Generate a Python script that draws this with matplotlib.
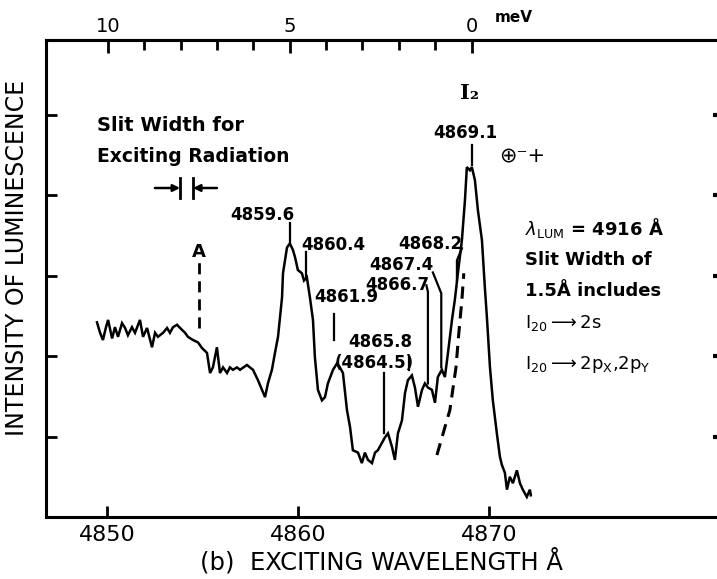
import numpy as np
import matplotlib
matplotlib.use("Agg")
import matplotlib.pyplot as plt
import matplotlib.transforms as mtransforms
from matplotlib.ticker import FixedLocator, NullFormatter

plt.rcParams['font.family'] = ['DejaVu Sans']

# excitation spectrum, intensity in arbitrary units
wavelength = [
    4849.47, 4849.63, 4849.78, 4849.94, 4850.05, 4850.26, 4850.41, 4850.57, 4850.78, 4850.94,
    4851.09, 4851.30, 4851.46, 4851.72, 4851.88, 4852.09, 4852.35, 4852.51, 4852.66, 4852.93,
    4853.14, 4853.29, 4853.45, 4853.66, 4853.82, 4854.08, 4854.23, 4854.50, 4854.76, 4854.97,
    4855.23, 4855.39, 4855.54, 4855.75, 4855.91, 4856.07, 4856.28, 4856.43, 4856.59, 4856.80,
    4856.96, 4857.32, 4857.64, 4857.90, 4858.27, 4858.42, 4858.63, 4858.79, 4858.95, 4859.16,
    4859.21, 4859.42, 4859.57, 4859.73, 4859.84, 4859.99, 4860.20, 4860.31, 4860.46, 4860.62,
    4860.78, 4860.88, 4861.04, 4861.25, 4861.41, 4861.56, 4861.83, 4862.04, 4862.19, 4862.35,
    4862.56, 4862.72, 4862.87, 4863.14, 4863.34, 4863.50, 4863.66, 4863.87, 4864.03, 4864.18,
    4864.39, 4864.55, 4864.71, 4864.92, 4865.07, 4865.23, 4865.44, 4865.60, 4865.75, 4865.96,
    4866.12, 4866.28, 4866.49, 4866.64, 4866.80, 4867.01, 4867.17, 4867.32, 4867.53, 4867.69,
    4867.85, 4868.06, 4868.21, 4868.37, 4868.58, 4868.74, 4868.84, 4869.00, 4869.10, 4869.26,
    4869.42, 4869.63, 4869.78, 4869.89, 4870.05, 4870.20, 4870.41, 4870.57, 4870.67, 4870.83,
    4870.94, 4871.09, 4871.25, 4871.46, 4871.62, 4871.77, 4871.98, 4872.14, 4872.19,
]
intensity = [
    2.42, 2.29, 2.20, 2.36, 2.45, 2.22, 2.36, 2.24, 2.41, 2.35,
    2.26, 2.36, 2.29, 2.45, 2.24, 2.35, 2.11, 2.29, 2.24, 2.29,
    2.35, 2.29, 2.36, 2.39, 2.35, 2.29, 2.24, 2.20, 2.17, 2.10,
    2.04, 1.79, 1.86, 2.11, 1.79, 1.86, 1.79, 1.86, 1.83, 1.86,
    1.83, 1.89, 1.83, 1.70, 1.49, 1.66, 1.83, 2.04, 2.24, 2.73,
    3.03, 3.35, 3.40, 3.32, 3.23, 3.07, 3.03, 2.94, 2.98, 2.73,
    2.45, 1.99, 1.58, 1.45, 1.49, 1.66, 1.83, 1.91, 1.86, 1.79,
    1.33, 1.12, 0.83, 0.80, 0.67, 0.80, 0.71, 0.67, 0.80, 0.83,
    0.92, 0.99, 1.04, 0.87, 0.71, 1.04, 1.20, 1.54, 1.70, 1.76,
    1.61, 1.37, 1.58, 1.66, 1.61, 1.58, 1.42, 1.74, 1.83, 1.74,
    2.04, 2.45, 2.70, 3.03, 3.44, 3.94, 4.35, 4.31, 4.35, 4.19,
    3.81, 3.44, 2.86, 2.48, 1.86, 1.45, 1.04, 0.75, 0.65, 0.55,
    0.34, 0.50, 0.42, 0.58, 0.42, 0.34, 0.25, 0.34, 0.27,
]

# dashed line shape under the low-energy side of I2
dash_wl = [4867.27, 4867.95, 4868.27, 4868.42, 4868.58, 4868.68]
dash_int = [0.77, 1.33, 1.86, 2.29, 2.70, 3.03]

wl_ticks = [4850, 4860, 4870]
mev_major = [0, 5, 10]
mev_minor = list(range(11))
HC = 12398.42      # eV * Angstrom
I2_LINE = 4869.1   # zero of the energy scale


def to_mev(wl):
    wl = np.asarray(wl, dtype=float)
    return HC * (1.0 / wl - 1.0 / I2_LINE) * 1000.0


def to_wl(mev):
    mev = np.asarray(mev, dtype=float)
    return 1.0 / (mev / 1000.0 / HC + 1.0 / I2_LINE)


fig = plt.figure(figsize=(7.17, 5.79), dpi=100)
ax = fig.add_axes([0.0642, 0.1071, 0.9358, 0.8238])

ax.plot(wavelength, intensity, color='black', lw=1.8, solid_joinstyle='miter')
ax.plot(dash_wl, dash_int, color='black', lw=2.2, dashes=(4, 2.5))

ax.set_xlim(4846.8, 4881.94)
ax.set_ylim(0, 5.93)

for side in ['left', 'bottom', 'top']:
    ax.spines[side].set_linewidth(2.2)
ax.spines['right'].set_visible(False)

ax.set_xticks(wl_ticks)
ax.set_xticklabels([str(t) for t in wl_ticks])
ax.tick_params(axis='x', direction='in', length=8, width=2, labelsize=16, pad=6, top=False)
ax.set_yticks([1, 2, 3, 4, 5])
ax.yaxis.set_major_formatter(NullFormatter())
ax.tick_params(axis='y', direction='in', length=8, width=2, left=True, right=True)
for t in ax.yaxis.get_major_ticks():
    t.tick2line.set_markersize(3)
    t.tick2line.set_markeredgewidth(3)

ax.set_xlabel('(b)  EXCITING WAVELENGTH Å', fontsize=17.5, labelpad=2)
ax.set_ylabel('INTENSITY OF LUMINESCENCE', fontsize=17)
ax.yaxis.set_label_coords(-0.026, 0.543)

# energy scale measured from the I2 line
sec = ax.secondary_xaxis('top', functions=(to_mev, to_wl))
sec.set_xticks(mev_major)
sec.set_xticklabels([str(t) for t in mev_major])
sec.xaxis.set_minor_locator(FixedLocator(mev_minor))
sec.tick_params(which='major', direction='in', length=9, width=2, labelsize=14, pad=3)
sec.tick_params(which='minor', direction='in', length=7, width=2)
sec.spines['top'].set_linewidth(2.2)
trans = mtransforms.blended_transform_factory(ax.transData, ax.transAxes)
ax.text(4870.3, 1.047, 'meV', transform=trans, fontsize=11, fontweight='bold',
        ha='left', va='center')


def peak_label(text, tx, ty, lx, ly):
    ax.text(tx, ty, text, ha='center', va='center', fontsize=12, fontweight='bold')
    ax.plot(lx, ly, color='black', lw=1.6)


peak_label('4859.6', 4858.11, 3.75, [4859.6, 4859.6], [3.42, 3.65])
peak_label('4860.4', 4861.83, 3.38, [4860.4, 4860.4], [2.96, 3.29])
peak_label('4861.9', 4862.51, 2.73, [4861.9, 4861.9], [2.20, 2.52])
peak_label('4865.8', 4864.29, 2.17, [4865.8, 4865.8], [1.83, 1.99])
peak_label('(4864.5)', 4863.97, 1.91, [4864.5, 4864.5], [1.04, 1.79])
peak_label('4866.7', 4865.18, 2.88, [4866.72, 4866.8, 4866.8], [2.88, 2.80, 1.66])
peak_label('4867.4', 4865.39, 3.13, [4867.06, 4867.5, 4867.5], [3.04, 2.78, 1.86])
peak_label('4868.2', 4866.90, 3.39, [4868.58, 4868.32, 4868.32], [3.34, 3.19, 2.94])
peak_label('4869.1', 4868.74, 4.77, [4869.1, 4869.1], [4.37, 4.62])

ax.text(4869.0, 5.27, 'I₂', family='DejaVu Serif', fontsize=15, fontweight='bold',
        ha='center', va='center')
ax.text(4871.72, 4.50, '⊕⁻+', fontsize=15, ha='center', va='center')

# slit width of the exciting radiation
ax.text(4849.47, 4.87, 'Slit Width for', fontsize=14, fontweight='bold', ha='left', va='center')
ax.text(4849.47, 4.48, 'Exciting Radiation', fontsize=13.5, fontweight='bold',
        ha='left', va='center')
slit_lo, slit_hi = 4853.82, 4854.50
ax.annotate('', xy=(slit_lo, 4.09), xytext=(4852.5, 4.09),
            arrowprops=dict(arrowstyle='-|>', lw=1.8, color='black', mutation_scale=10,
                            shrinkA=0, shrinkB=0))
ax.annotate('', xy=(slit_hi, 4.09), xytext=(4855.75, 4.09),
            arrowprops=dict(arrowstyle='-|>', lw=1.8, color='black', mutation_scale=10,
                            shrinkA=0, shrinkB=0))
ax.plot([slit_lo, slit_lo], [3.96, 4.21], color='black', lw=2)
ax.plot([slit_hi, slit_hi], [3.96, 4.21], color='black', lw=2)

ax.text(4854.81, 3.29, 'A', fontsize=13, fontweight='bold', ha='center', va='center')
ax.plot([4854.81, 4854.81], [2.35, 3.17], color='black', lw=2, dashes=(4, 2.5))

# measurement conditions
cond_x = 4871.88
ax.text(cond_x, 3.59, r'$\lambda_{\mathrm{LUM}}$ = 4916 Å', fontsize=13, fontweight='bold',
        ha='left', va='center')
ax.text(cond_x, 3.19, 'Slit Width of', fontsize=13, fontweight='bold', ha='left', va='center')
ax.text(cond_x, 2.81, '1.5Å includes', fontsize=13, fontweight='bold', ha='left', va='center')
ax.text(cond_x, 2.41, r'$\mathrm{I_{20}}\longrightarrow$2s', fontsize=13,
        ha='left', va='center')
ax.text(cond_x, 1.89, r'$\mathrm{I_{20}}\longrightarrow$2p$_\mathrm{X}$,2p$_\mathrm{Y}$',
        fontsize=13, ha='left', va='center')

fig.savefig('out.png', dpi=100)
